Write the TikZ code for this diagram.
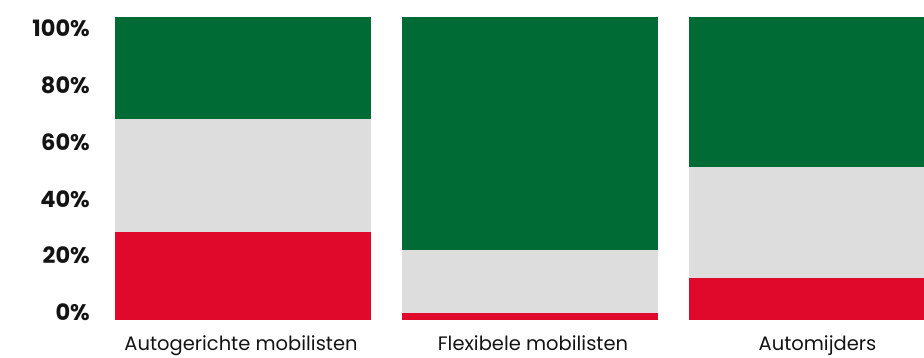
\documentclass[tikz,border=0pt]{standalone}
\usepackage{fontspec}
\setmainfont{Poppins}
\definecolor{cgreen}{RGB}{0,107,52}
\definecolor{cgray}{RGB}{221,221,221}
\definecolor{cred}{RGB}{224,9,44}
\definecolor{ctext}{RGB}{20,20,20}
\begin{document}
\begin{tikzpicture}[x=1pt,y=-1pt,
  tick/.style={anchor=east,inner sep=0pt,font=\fontsize{22.5}{22.5}\selectfont\bfseries,text=ctext},
  cat/.style={anchor=base,inner sep=0pt,font=\fontsize{19.5}{19.5}\selectfont,text=ctext}]
\useasboundingbox (0,0) rectangle (924,357);
\begin{scope}
\clip (0,0) rectangle (924,357);
% bar 1
\fill[cgreen] (115,17) rectangle (371,119);
\fill[cgray] (115,119) rectangle (371,232);
\fill[cred] (115,232) rectangle (371,320);
% bar 2
\fill[cgreen] (402,17) rectangle (658,250);
\fill[cgray] (402,250) rectangle (658,313);
\fill[cred] (402,313) rectangle (658,320);
% bar 3
\fill[cgreen] (689,17) rectangle (945,167);
\fill[cgray] (689,167) rectangle (945,278);
\fill[cred] (689,278) rectangle (945,320);
\end{scope}
\node[tick] (t100) at (90,28.7) {100\%};
\node[tick] (t80) at (90,85.4) {80\%};
\node[tick] (t60) at (90,142.1) {60\%};
\node[tick] (t40) at (90,198.8) {40\%};
\node[tick] (t20) at (90,255.5) {20\%};
\node[tick] (t0) at (90,312.2) {0\%};
\node[cat] (c1) at (241,350.5) {Autogerichte mobilisten};
\node[cat] (c2) at (533,350.5) {Flexibele mobilisten};
\node[cat] (c3) at (817.5,350.5) {Automijders};
\end{tikzpicture}
\end{document}
